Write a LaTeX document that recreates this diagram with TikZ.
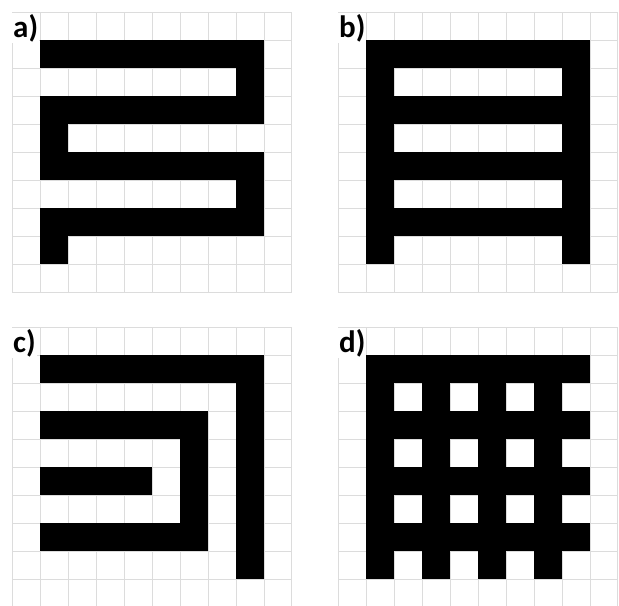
\documentclass[tikz,border=0pt]{standalone}
\usepackage{fontspec}
\setmainfont{Carlito}
\usepackage{xcolor}
\definecolor{gridgray}{HTML}{DCDCDC}
\usepackage{tikz}
\usetikzlibrary{positioning}

\tikzset{
    gridline/.style={draw=gridgray, line width=0.5pt, step=14pt},
    panellabel/.style={fill=white, inner sep=0.4pt, anchor=base west, font=\fontsize{15.5}{16}\selectfont\bfseries}
}

\begin{document}
\begin{tikzpicture}[x=14pt, y=-14pt]
    \useasboundingbox (0,0) rectangle (309.5pt,-302.5pt);
    \clip (0,0) rectangle (309.5pt,-302.5pt);
    % a) meander
    \begin{scope}[xshift=6pt, yshift=-6pt]
        \draw[gridline] (0,0) grid (10,10);
        \foreach \xa/\ya/\xb/\yb in {1/1/9/2, 8/2/9/3, 1/3/9/4, 1/4/2/5, 1/5/9/6, 8/6/9/7, 1/7/9/8, 1/8/2/9} {
            \fill[black] (\xa,\ya) rectangle (\xb,\yb);
        }
        \node[panellabel] (labA) at (0.0,0.9) {a)};
    \end{scope}
    % b) ladder
    \begin{scope}[xshift=169pt, yshift=-6pt]
        \draw[gridline] (0,0) grid (10,10);
        \foreach \xa/\ya/\xb/\yb in {1/1/9/2, 1/2/2/9, 8/2/9/9, 1/3/9/4, 1/5/9/6, 1/7/9/8} {
            \fill[black] (\xa,\ya) rectangle (\xb,\yb);
        }
        \node[panellabel] (labB) at (0.0,0.9) {b)};
    \end{scope}
    % c) nested fingers
    \begin{scope}[xshift=6pt, yshift=-163.5pt]
        \draw[gridline] (0,0) grid (10,10);
        \foreach \xa/\ya/\xb/\yb in {1/1/9/2, 8/2/9/9, 1/3/7/4, 6/4/7/7, 1/5/5/6, 1/7/7/8} {
            \fill[black] (\xa,\ya) rectangle (\xb,\yb);
        }
        \node[panellabel] (labC) at (0.0,0.9) {c)};
    \end{scope}
    % d) mesh
    \begin{scope}[xshift=169pt, yshift=-163.5pt]
        \draw[gridline] (0,0) grid (10,10);
        \foreach \xa/\ya/\xb/\yb in {1/1/9/2, 1/3/9/4, 1/5/9/6, 1/7/9/8} {
            \fill[black] (\xa,\ya) rectangle (\xb,\yb);
        }
        \foreach \col in {1,3,5,7} {
            \fill[black] (\col,2) rectangle (\col+1,9);
        }
        \node[panellabel] (labD) at (0.0,0.9) {d)};
    \end{scope}
\end{tikzpicture}
\end{document}
